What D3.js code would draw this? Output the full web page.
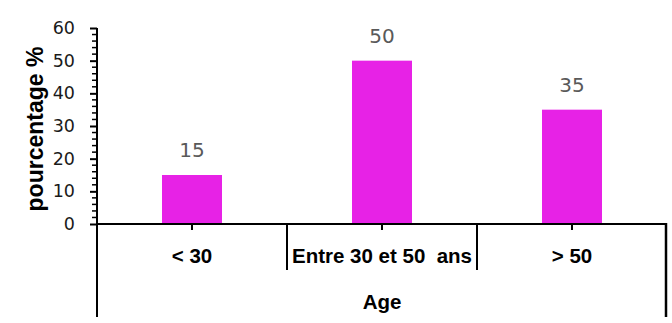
<!DOCTYPE html>
<html>
<head>
<meta charset="utf-8">
<script src="https://cdn.jsdelivr.net/npm/d3@7"></script>
<style>
  html, body { margin: 0; background: #fff; overflow: hidden; }
  svg { display: block; }
  text { white-space: pre; }
</style>
</head>
<body>
<div id="chart"></div>
<script>
// data
var categories = ["< 30", "Entre 30 et 50  ans", "> 50"];
var values = [15, 50, 35];
var yTicks = [0, 10, 20, 30, 40, 50, 60];
var axisTitle = "Age";
var yTitle = "pourcentage %";

var svgWidth = 672;
var svgHeight = 323;

var margin = { top: 28, right: 5, bottom: 99, left: 97 };
var width = svgWidth - margin.left - margin.right;
var height = svgHeight - margin.top - margin.bottom;

var svg = d3.select("#chart")
  .append("svg")
  .attr("width", svgWidth)
  .attr("height", svgHeight);

var chartGroup = svg.append("g")
  .attr("transform", `translate(${margin.left}, ${margin.top})`);

// scales
var groupScale = d3.scaleBand()
  .domain(categories)
  .range([0, width])
  .padding(0);

var pad = 1 - 60 / groupScale.step();
var xBandScale = d3.scaleBand()
  .domain(categories)
  .range([0, width])
  .paddingInner(pad)
  .paddingOuter(pad / 2);

var yLinearScale = d3.scaleLinear()
  .domain([0, 60])
  .range([height, 0]);

// bars
chartGroup.selectAll("rect.bar")
  .data(values)
  .enter()
  .append("rect")
  .attr("class", "bar")
  .attr("x", (d, i) => xBandScale(categories[i]))
  .attr("y", d => yLinearScale(d))
  .attr("width", xBandScale.bandwidth())
  .attr("height", d => height - yLinearScale(d))
  .attr("fill", "#E722E6");

// value labels
chartGroup.selectAll("text.val")
  .data(values)
  .enter()
  .append("text")
  .attr("class", "val")
  .attr("x", (d, i) => xBandScale(categories[i]) + xBandScale.bandwidth() / 2)
  .attr("y", d => yLinearScale(d) - 18)
  .attr("text-anchor", "middle")
  .attr("font-family", "DejaVu Sans")
  .attr("font-size", 20)
  .attr("fill", "#595959")
  .text(d => d);

// y axis minor ticks
var minor = d3.range(0, 61, 2).filter(v => v % 10 !== 0);
chartGroup.selectAll("line.minor")
  .data(minor)
  .enter()
  .append("line")
  .attr("class", "minor")
  .attr("x1", -5)
  .attr("x2", 0)
  .attr("y1", d => yLinearScale(d))
  .attr("y2", d => yLinearScale(d))
  .attr("stroke", "#000")
  .attr("stroke-width", 1.5);

// y axis
var leftAxis = d3.axisLeft(yLinearScale)
  .tickValues(yTicks)
  .tickSize(7)
  .tickPadding(15);

var yAxis = chartGroup.append("g").call(leftAxis);
yAxis.select(".domain").attr("stroke-width", 2).attr("d", `M0,${height}V0`);
yAxis.selectAll(".tick line").attr("stroke-width", 2);
yAxis.selectAll(".tick text")
  .attr("font-family", "DejaVu Sans")
  .attr("font-size", 17.5)
  .attr("fill", "#1a1a1a");

// x axis line
chartGroup.append("path")
  .attr("d", `M0,${height}H${groupScale.range()[1]}`)
  .attr("stroke", "#000")
  .attr("stroke-width", 2);

// x ticks at the bar centres
chartGroup.selectAll("line.xtick")
  .data(categories)
  .enter()
  .append("line")
  .attr("class", "xtick")
  .attr("x1", d => groupScale(d) + groupScale.bandwidth() / 2)
  .attr("x2", d => groupScale(d) + groupScale.bandwidth() / 2)
  .attr("y1", height)
  .attr("y2", height + 6)
  .attr("stroke", "#000")
  .attr("stroke-width", 2);

// separators between categories
var inner = categories.slice(1);
chartGroup.selectAll("line.sep")
  .data(inner)
  .enter()
  .append("line")
  .attr("class", "sep")
  .attr("x1", d => groupScale(d))
  .attr("x2", d => groupScale(d))
  .attr("y1", height)
  .attr("y2", height + 46)
  .attr("stroke", "#000")
  .attr("stroke-width", 2);

// outer lines for the Age level
var leftEdge = groupScale.range()[0];
var rightEdge = groupScale.range()[1] - 1;
chartGroup.append("path")
  .attr("d", `M${leftEdge},${height}V${height + 93}`)
  .attr("stroke", "#000")
  .attr("stroke-width", 2);
chartGroup.append("path")
  .attr("d", `M${rightEdge},${height - 1}V${height + 93}`)
  .attr("stroke", "#000")
  .attr("stroke-width", 2.5);

// category labels
chartGroup.selectAll("text.cat")
  .data(categories)
  .enter()
  .append("text")
  .attr("class", "cat")
  .attr("x", d => groupScale(d) + groupScale.bandwidth() / 2)
  .attr("y", height + 39)
  .attr("text-anchor", "middle")
  .attr("font-family", "Liberation Sans")
  .attr("font-weight", "bold")
  .attr("font-size", 20.5)
  .attr("fill", "#000")
  .text(d => d);

// Age label
chartGroup.append("text")
  .attr("x", width / 2)
  .attr("y", height + 85)
  .attr("text-anchor", "middle")
  .attr("font-family", "Liberation Sans")
  .attr("font-weight", "bold")
  .attr("font-size", 20.5)
  .attr("fill", "#000")
  .text(axisTitle);

// y title
svg.append("text")
  .attr("transform", "translate(43, 129) rotate(-90)")
  .attr("text-anchor", "middle")
  .attr("font-family", "Liberation Sans")
  .attr("font-weight", "bold")
  .attr("font-size", 23)
  .attr("fill", "#000")
  .text(yTitle);
</script>
</body>
</html>
